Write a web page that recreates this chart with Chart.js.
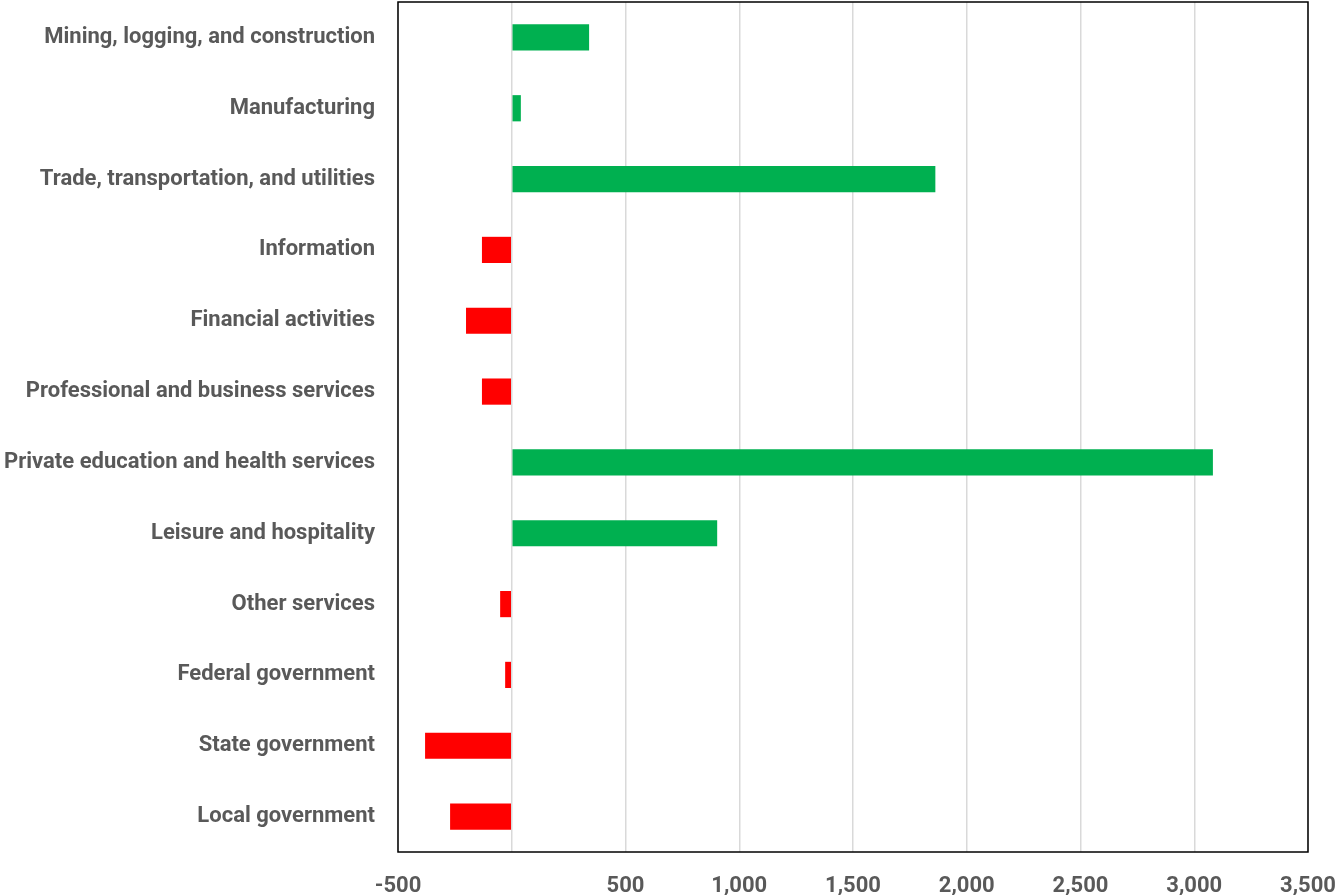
<!DOCTYPE html>
<html>
<head>
<meta charset="utf-8">
<script src="https://cdn.jsdelivr.net/npm/chart.js@4.4.1/dist/chart.umd.min.js"></script>
<style>
  html, body { margin: 0; padding: 0; background: #ffffff; }
  #wrap { width: 1337px; height: 895px; }
</style>
</head>
<body>
<div id="wrap"><canvas id="jobsChart" width="1337" height="895"></canvas></div>
<script>
// Change in employment by industry (thousands)
const categories = [
    'Mining, logging, and construction',
    'Manufacturing',
    'Trade, transportation, and utilities',
    'Information',
    'Financial activities',
    'Professional and business services',
    'Private education and health services',
    'Leisure and hospitality',
    'Other services',
    'Federal government',
    'State government',
    'Local government'
];
const changes = [340, 40, 1862, -131, -201, -131, 3082, 903, -51, -29, -381, -271];
const xTicks = [-500, 0, 500, 1000, 1500, 2000, 2500, 3000, 3500];

const labelGray = '#595959';

// black frame round the plot area
const frame = {
    id: 'frame',
    afterDraw(chart) {
        const a = chart.chartArea;
        const ctx = chart.ctx;
        ctx.save();
        ctx.strokeStyle = '#000000';
        ctx.lineWidth = 1.5;
        ctx.strokeRect(a.left, a.top, a.right - a.left, a.bottom - a.top);
        ctx.restore();
    }
};

document.addEventListener('DOMContentLoaded', function() {
    const ctx = document.getElementById('jobsChart').getContext('2d');

    new Chart(ctx, {
        type: 'bar',
        data: {
            labels: categories,
            datasets: [{
                label: 'Change',
                data: changes,
                backgroundColor: changes.map(v => v < 0 ? '#FF0000' : '#00B050'),
                borderWidth: 0,
                barPercentage: 0.37,
                categoryPercentage: 1.0
            }]
        },
        plugins: [frame],
        options: {
            indexAxis: 'y',
            responsive: false,
            animation: false,
            layout: {
                padding: { top: 2, right: 29, bottom: 0, left: 0 }
            },
            plugins: {
                legend: { display: false },
                tooltip: { enabled: false }
            },
            scales: {
                x: {
                    min: xTicks[0],
                    max: xTicks[xTicks.length - 1],
                    afterBuildTicks: function(scale) {
                        scale.ticks = xTicks.map(v => ({ value: v }));
                    },
                    afterFit: function(scale) {
                        scale.height = 43;
                        scale.paddingLeft = 0;
                        scale.paddingRight = 0;
                    },
                    ticks: {
                        color: labelGray,
                        padding: 21,
                        maxRotation: 0,
                        font: { family: 'Roboto', size: 22, weight: 'bold' },
                        callback: function(value) {
                            return value === 0 ? '' : value.toLocaleString('en-US');
                        }
                    },
                    grid: {
                        color: '#d9d9d9',
                        lineWidth: 1.5,
                        drawTicks: false
                    },
                    border: { display: false }
                },
                y: {
                    afterFit: function(scale) {
                        scale.width = 398;
                        scale.paddingTop = 0;
                        scale.paddingBottom = 0;
                    },
                    ticks: {
                        color: labelGray,
                        padding: 23,
                        font: { family: 'Roboto', size: 22, weight: 'bold' }
                    },
                    grid: { display: false, drawTicks: false },
                    border: { display: false }
                }
            }
        }
    });
});
</script>
</body>
</html>
